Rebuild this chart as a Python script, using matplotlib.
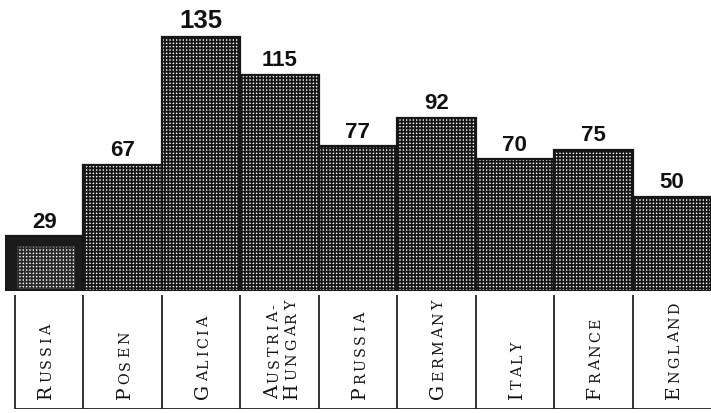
import matplotlib
matplotlib.use("Agg")
import matplotlib.pyplot as plt
import matplotlib.transforms as mtransforms

# Daten
countries = ["Russia", "Posen", "Galicia", "Austria-\nHungary", "Prussia",
             "Germany", "Italy", "France", "England"]
values = [29, 67, 135, 115, 77, 92, 70, 75, 50]

plt.rcParams["hatch.linewidth"] = 1.3
W, H = 711, 414
fig = plt.figure(figsize=(W / 100, H / 100), dpi=100)
fig.patch.set_facecolor("white")

# Saeulen
ax = fig.add_axes([5 / W, 122 / H, 706 / W, 292 / H])
ax.set_xlim(0, 9)
ax.set_ylim(0, 292 / 1.88)
ax.axis("off")

xs = [i + 0.5 for i in range(len(values))]
bars = ax.bar(xs, values, width=1.0, facecolor="white", edgecolor="#161616",
              hatch="+++++", linewidth=1.6)
# Russland: dunkler Rahmen mit kleinerem Rasterfeld
bars[0].set_hatch(None)
bars[0].set_facecolor("#1b1b1b")
ax.bar(xs[0] + 0.015, values[0] - 6.5, bottom=1.5, width=0.73,
       facecolor="white", edgecolor="#2a2a2a", hatch="+++++", linewidth=0.5)

for x, v in zip(xs, values):
    big = v == max(values)
    ax.annotate(str(v), (x, v), xytext=(0, 7), textcoords="offset points",
                ha="center", va="baseline", family="Liberation Sans",
                fontsize=18.5 if big else 16,
                fontweight="heavy" if big else "bold", color="#111111")

# Beschriftungsfeld
lax = fig.add_axes([5 / W, 4 / H, 706 / W, 114 / H])
lax.set_xlim(0, 9)
lax.set_ylim(0, 1)
lax.axis("off")
left = 10 / (706 / 9)
lax.vlines([left] + list(range(1, 9)), 0, 1, color="#222222", linewidth=1.3)
lax.hlines(0, left, 9, color="#222222", linewidth=1.3)

renderer = fig.canvas.get_renderer()
ident = mtransforms.IdentityTransform()


def small_caps(xb, yb, word, big=13.5, small=10.3, track=2.6):
    y = yb
    for k, ch in enumerate(word):
        size = big if k == 0 else small
        t = fig.text(xb, y, ch.upper(), transform=ident, rotation=90,
                     rotation_mode="anchor", ha="left", va="baseline",
                     family="DejaVu Serif", fontsize=size, color="#111111")
        y += t.get_window_extent(renderer).height + track


for x, name in zip(xs, countries):
    cx = ax.transData.transform((x, 0))[0]
    lines = name.split("\n")
    if len(lines) == 1:
        small_caps(cx + 7, 15, lines[0])
    else:
        small_caps(cx - 1, 15, lines[0])
        small_caps(cx + 17, 15, lines[1])

fig.savefig("out.png", dpi=100, facecolor="white")
